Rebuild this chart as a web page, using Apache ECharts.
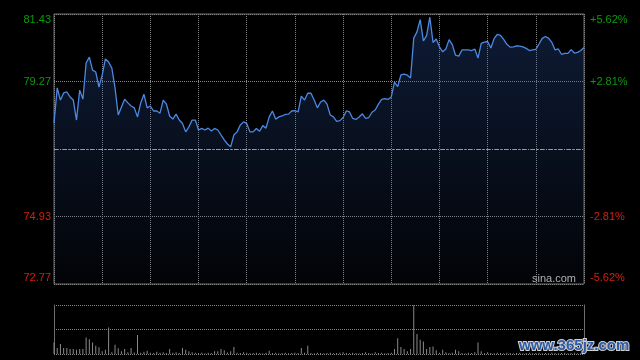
<!DOCTYPE html>
<html>
<head>
<meta charset="utf-8">
<script src="https://cdn.jsdelivr.net/npm/echarts@6/dist/echarts.min.js"></script>
<style>
html,body{margin:0;padding:0;background:#000;}
#chart{width:640px;height:360px;}
</style>
</head>
<body>
<div id="chart"></div>
<script>
// ---- data ----
const prevClose = 77.10;
const priceTicks = ['72.77', '74.93', '77.10', '79.27', '81.43'];
const pctTicks = ['-5.62%', '-2.81%', '0.00%', '+2.81%', '+5.62%'];

const prices = [
77.93,79.06,78.67,78.90,78.93,78.77,78.67,78.03,78.99,78.70,
79.86,80.05,79.63,79.57,79.09,79.47,79.99,79.89,79.70,79.06,
78.19,78.45,78.70,78.58,78.48,78.42,78.13,78.58,78.86,78.42,
78.48,78.32,78.32,78.25,78.67,78.54,78.16,78.06,78.22,78.03,
77.92,77.65,77.81,78.03,78.03,77.71,77.76,77.71,77.77,77.68,
77.76,77.71,77.55,77.39,77.26,77.17,77.55,77.65,77.87,77.97,
77.92,77.65,77.65,77.76,77.67,77.85,77.77,78.13,78.32,78.06,
78.13,78.16,78.21,78.22,78.32,78.33,78.29,78.80,78.67,78.89,
78.89,78.67,78.42,78.61,78.67,78.54,78.19,78.13,77.99,78.01,
78.11,78.32,78.29,78.08,78.05,78.13,78.23,78.08,78.11,78.28,
78.35,78.54,78.69,78.72,78.69,78.77,79.25,79.10,79.48,79.50,
79.47,79.38,80.66,80.86,81.25,80.57,80.74,81.33,80.52,80.63,
80.38,80.22,80.31,80.61,80.45,80.11,80.08,80.28,80.28,80.28,
80.26,80.31,80.02,80.49,80.53,80.55,80.34,80.64,80.78,80.75,
80.62,80.46,80.37,80.38,80.41,80.40,80.38,80.33,80.26,80.28,
80.30,80.47,80.65,80.71,80.65,80.52,80.28,80.31,80.14,80.17,
80.17,80.29,80.18,80.20,80.26,80.36
];

const volumes = [
1170,600,1000,600,600,500,500,430,500,500,
1670,1500,1170,830,670,270,430,2670,170,930,
570,270,500,170,600,150,1930,120,230,330,
120,100,230,120,170,100,500,120,170,100,
600,430,270,170,120,100,120,80,120,100,
270,270,500,370,150,270,700,120,100,170,
120,80,100,120,100,80,120,330,100,120,
80,100,120,80,100,120,100,600,120,830,
100,80,120,100,80,100,120,80,100,120,
170,100,80,120,100,80,100,170,100,80,
170,100,120,80,100,120,500,1600,700,500,
270,500,4930,2030,1430,1270,500,700,770,370,
120,430,170,100,120,430,270,100,80,120,
100,170,1170,270,100,170,100,80,120,100,
80,120,100,80,100,120,80,100,120,80,
100,120,80,100,80,120,100,80,100,120,
80,100,120,80,100,120
];

// categories: HK session, 2-minute steps
const times = [];
for (let i = 0; i < prices.length; i++) {
  const m = i * 2;
  let t = (m <= 150) ? (9 * 60 + 30 + m) : (13 * 60 + (m - 150));
  const h = Math.floor(t / 60), mm = t % 60;
  times.push(String(h).padStart(2, '0') + ':' + String(mm).padStart(2, '0'));
}

const pctData = prices.map(p => +(((p / prevClose) - 1) * 100).toFixed(4));

const GREEN = '#0b9a0b', RED = '#d81e0e';
function tickIndex(v) { return Math.round((v + 5.62) / 2.81); }
function makeRich() {
  return {
    gT: { color: GREEN, padding: [12, 0, 0, 0] },
    g: { color: GREEN },
    r: { color: RED },
    rB: { color: RED, padding: [0, 0, 12, 0] }
  };
}
function styled(idx, txt) {
  if (idx === 4) return '{gT|' + txt + '}';
  if (idx === 3) return '{g|' + txt + '}';
  if (idx === 1) return '{r|' + txt + '}';
  if (idx === 0) return '{rB|' + txt + '}';
  return '';
}

const font = "'Liberation Sans', Arial, sans-serif";
const gridDot = { color: '#858585', type: [1, 1], width: 1 };

const chart = echarts.init(document.getElementById('chart'), null, { renderer: 'canvas' });
chart.setOption({
  backgroundColor: '#000',
  animation: false,
  textStyle: { fontFamily: font },
  grid: [
    { left: 54, top: 14, width: 530, height: 270, show: true, borderColor: '#6e6e6e', borderWidth: 1, backgroundColor: 'transparent' },
    { left: 54, top: 305, width: 530, height: 49 }
  ],
  xAxis: [
    { type: 'category', gridIndex: 0, data: times, boundaryGap: false,
      axisLine: { show: false }, axisTick: { show: false }, axisLabel: { show: false },
      splitLine: { show: true, interval: 14, lineStyle: gridDot } },
    { type: 'category', gridIndex: 1, data: times, boundaryGap: false,
      axisLine: { show: false }, axisTick: { show: false }, axisLabel: { show: false },
      splitLine: { show: false } }
  ],
  yAxis: [
    { type: 'value', gridIndex: 0, position: 'left', min: -5.62, max: 5.62, interval: 2.81,
      axisLine: { show: false }, axisTick: { show: false },
      axisLabel: { show: true, margin: 3, fontSize: 11, fontFamily: font,
        formatter: v => { const i = tickIndex(v); return styled(i, priceTicks[i]); }, rich: makeRich() },
      splitLine: { show: true, lineStyle: gridDot } },
    { type: 'value', gridIndex: 0, position: 'right', min: -5.62, max: 5.62, interval: 2.81,
      axisLine: { show: false }, axisTick: { show: false },
      axisLabel: { show: true, margin: 6, fontSize: 11, fontFamily: font,
        formatter: v => { const i = tickIndex(v); return styled(i, pctTicks[i]); }, rich: makeRich() },
      splitLine: { show: false } },
    { type: 'value', gridIndex: 1, position: 'left', min: 0, max: 4950, interval: 2475,
      axisLine: { show: true, lineStyle: { color: '#6e6e6e', width: 1 } }, axisTick: { show: false },
      axisLabel: { show: false }, splitLine: { show: true, lineStyle: { color: '#858585', type: [1, 1], width: 1 } } },
    { type: 'value', gridIndex: 1, position: 'right', min: 0, max: 4950, interval: 2475,
      axisLine: { show: true, lineStyle: { color: '#6e6e6e', width: 1 } }, axisTick: { show: false },
      axisLabel: { show: false }, splitLine: { show: false } }
  ],
  series: [
    { type: 'line', xAxisIndex: 0, yAxisIndex: 0, data: pctData, showSymbol: false, symbol: 'none',
      lineStyle: { color: '#4d88e2', width: 1.3 },
      areaStyle: { origin: 'start', color: new echarts.graphic.LinearGradient(0, 0, 0, 1, [
        { offset: 0, color: 'rgba(45,85,165,0.46)' },
        { offset: 1, color: 'rgba(45,85,165,0.06)' }
      ]) },
      markLine: { silent: true, symbol: 'none', label: { show: false },
        lineStyle: { color: '#9a9a9a', type: [4, 2, 1, 2], width: 1 },
        data: [{ yAxis: 0 }] },
      z: 3 },
    { type: 'bar', xAxisIndex: 1, yAxisIndex: 2, data: volumes, barWidth: 1,
      itemStyle: { color: '#8a8a8a' } }
  ],
  graphic: [
    { type: 'text', left: 532, top: 273, z: 10,
      style: { text: 'sina.com', fill: '#b0b0b0', font: '11px ' + font } },
    { type: 'text', left: 518, top: 337, z: 10,
      style: { text: 'www.365jz.com', fill: '#2d5ba8', stroke: '#d0d0d0', lineWidth: 2,
        font: 'bold 15px ' + font } }
  ]
});
</script>
</body>
</html>
